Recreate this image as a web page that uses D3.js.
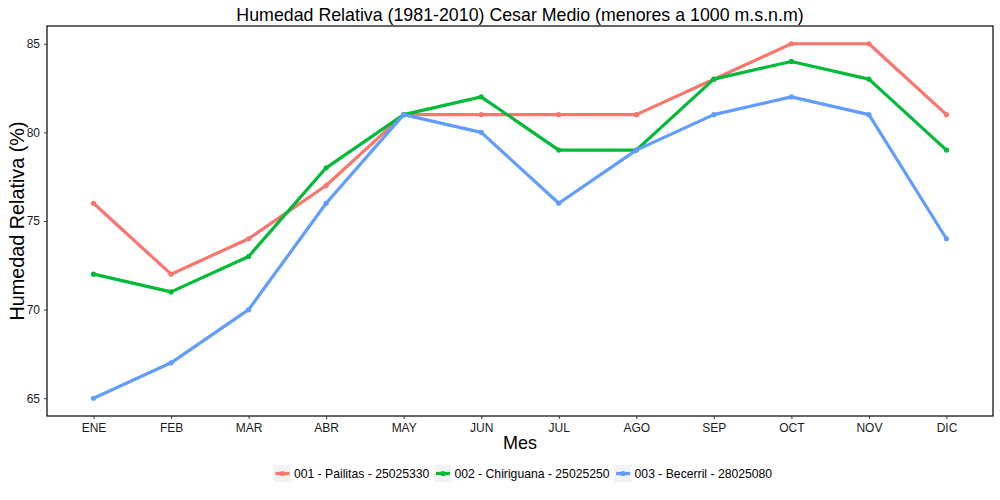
<!DOCTYPE html>
<html><head><meta charset="utf-8">
<script src="https://cdn.jsdelivr.net/npm/d3@7"></script>
<style>body{margin:0;background:#fff}svg{display:block;font-family:"Liberation Sans",Arial,sans-serif}</style>
</head><body>
<svg id="c" width="1000" height="500"></svg>
<script>
const months = ["ENE","FEB","MAR","ABR","MAY","JUN","JUL","AGO","SEP","OCT","NOV","DIC"];
const seriesNames = ["001 - Pailitas - 25025330","002 - Chiriguana - 25025250","003 - Becerril - 28025080"];
const pailitas = [76,72,74,77,81,81,81,81,83,85,85,81];
const chiriguana = [72,71,73,78,81,82,79,79,83,84,83,79];
const becerril = [65,67,70,76,81,80,76,79,81,82,81,74];
const colors = ["#F8766D","#00BA38","#619CFF"];
const yTicks = [65,70,75,80,85];

const series = [pailitas, chiriguana, becerril];
const svg = d3.select("#c");
const L = 47, R = 993, T = 26, B = 416;

// discrete ggplot expansion: 0.6 units each side
const step = (R - L) / (months.length - 1 + 1.2);
const x = d3.scalePoint().domain(months).range([L + 0.6 * step, R - 0.6 * step]).padding(0);
const y = d3.scaleLinear().domain([64, 86]).range([B, T]);

svg.append("rect").attr("x", L).attr("y", T).attr("width", R - L).attr("height", B - T).attr("fill", "#fff");

const line = d3.line().x((d, i) => x(months[i])).y(d => y(d));
series.forEach((s, k) => {
  svg.append("path").datum(s).attr("d", line).attr("fill", "none")
    .attr("stroke", colors[k]).attr("stroke-width", 3.2).attr("stroke-linejoin", "round");
  svg.selectAll(null).data(s).enter().append("circle")
    .attr("cx", (d, i) => x(months[i])).attr("cy", d => y(d)).attr("r", 2.6).attr("fill", colors[k]);
});

svg.append("rect").attr("x", L).attr("y", T).attr("width", R - L).attr("height", B - T)
  .attr("fill", "none").attr("stroke", "#000").attr("stroke-width", 1.2);

// axes
const xAxis = d3.axisBottom(x).tickSize(3).tickPadding(4);
const gx = svg.append("g").attr("transform", `translate(0,${B})`).call(xAxis);
gx.select(".domain").remove();
gx.selectAll("line").attr("stroke", "#333");
gx.selectAll("text").attr("font-size", 12).attr("fill", "#1a1a1a");

const yAxis = d3.axisLeft(y).tickValues(yTicks).tickSize(3).tickPadding(4);
const gy = svg.append("g").attr("transform", `translate(${L},0)`).call(yAxis);
gy.select(".domain").remove();
gy.selectAll("line").attr("stroke", "#333");
gy.selectAll("text").attr("font-size", 12).attr("fill", "#1a1a1a");

svg.append("text").attr("x", (L + R) / 2).attr("y", 20.5).attr("text-anchor", "middle")
  .attr("font-size", 17.8).attr("fill", "#000").text("Humedad Relativa (1981-2010) Cesar Medio (menores a 1000 m.s.n.m)");
svg.append("text").attr("x", (L + R) / 2).attr("y", 449).attr("text-anchor", "middle")
  .attr("font-size", 18).attr("fill", "#000").text("Mes");
svg.append("text").attr("transform", `translate(24,${(T + B) / 2}) rotate(-90)`).attr("text-anchor", "middle")
  .attr("font-size", 19.8).attr("fill", "#000").text("Humedad Relativa (%)");

// legend (laid out sequentially, centred)
const lg = svg.append("g");
let cx = 0;
seriesNames.forEach((n, k) => {
  const g = lg.append("g").attr("transform", `translate(${cx},0)`);
  g.append("rect").attr("width", 17).attr("height", 17).attr("fill", "#f2f2f2");
  g.append("line").attr("x1", 1.5).attr("x2", 15.5).attr("y1", 8.5).attr("y2", 8.5)
    .attr("stroke", colors[k]).attr("stroke-width", 3.2);
  g.append("circle").attr("cx", 8.5).attr("cy", 8.5).attr("r", 2.6).attr("fill", colors[k]);
  const t = g.append("text").attr("x", 20).attr("y", 13).attr("font-size", 12.2).attr("fill", "#000").text(n);
  cx += 20 + t.node().getComputedTextLength() + 5;
});
const total = cx - 5;
lg.attr("transform", `translate(${523 - total / 2},465)`);
</script>
</body></html>
